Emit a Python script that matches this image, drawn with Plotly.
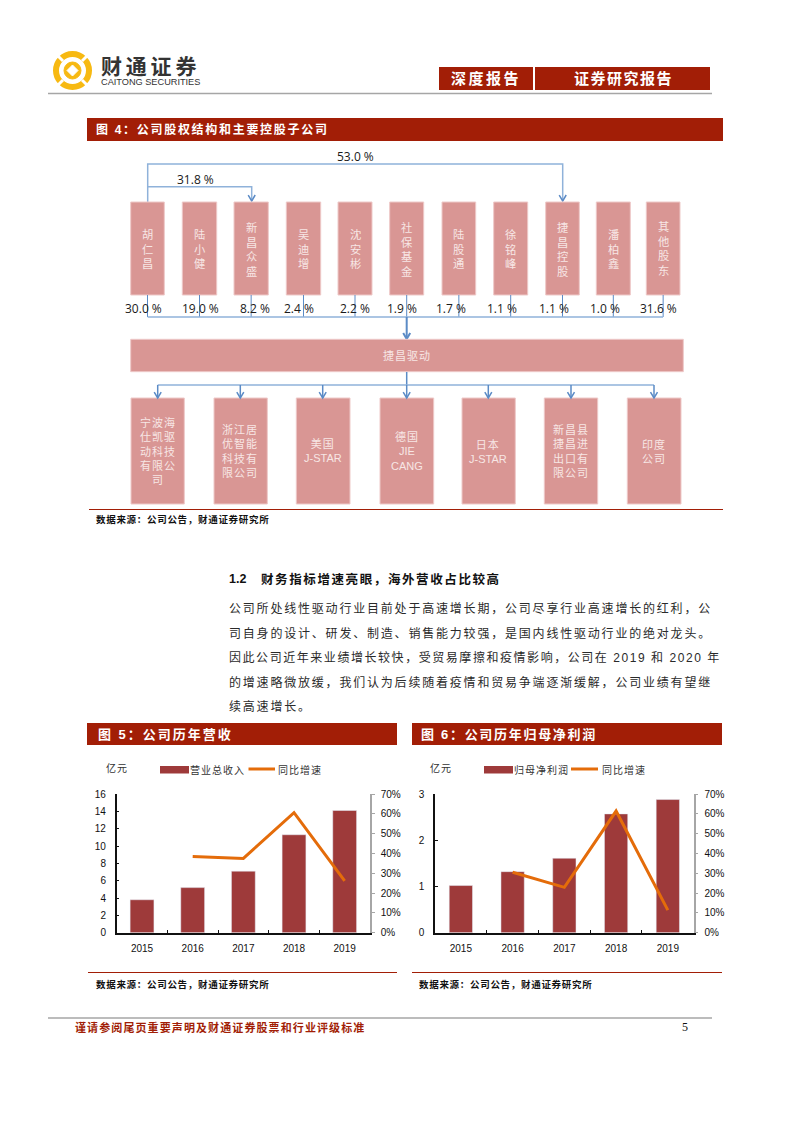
import plotly.graph_objects as go

PAGE_W, PAGE_H = 793, 1122
RED = "#a21e06"
BOX = "#d99694"
BOX_TEXT = "#f7e6e5"
LINK = "#8fb2da"
LINK_DARK = "#5b8bc6"
BAR = "#9e3a3a"
ORANGE = "#e46c0a"
CJK = "Liberation Sans, Noto Sans CJK SC"

years = ["2015", "2016", "2017", "2018", "2019"]
revenue = [3.8, 5.2, 7.1, 11.3, 14.1]
revenue_growth = [None, 0.385, 0.375, 0.606, 0.262]
profit = [1.02, 1.32, 1.61, 2.57, 2.88]
profit_growth = [None, 0.305, 0.229, 0.614, 0.114]

holders = ["胡仁昌", "陆小健", "新昌众盛", "吴迪增", "沈安彬", "社保基金",
           "陆股通", "徐铭峰", "捷昌控股", "潘柏鑫", "其他股东"]
holder_pct = ["30.0 %", "19.0 %", "8.2 %", "2.4 %", "2.2 %", "1.9 %",
              "1.7 %", "1.1 %", "1.1 %", "1.0 %", "31.6 %"]
subsidiaries = [["宁波海", "仕凯驱", "动科技", "有限公", "司"],
                ["浙江居", "优智能", "科技有", "限公司"],
                ["美国", "J-STAR"],
                ["德国", "JIE", "CANG"],
                ["日本", "J-STAR"],
                ["新昌县", "捷昌进", "出口有", "限公司"],
                ["印度", "公司"]]
body_lines = ["公司所处线性驱动行业目前处于高速增长期，公司尽享行业高速增长的红利，公",
              "司自身的设计、研发、制造、销售能力较强，是国内线性驱动行业的绝对龙头。",
              "因此公司近年来业绩增长较快，受贸易摩擦和疫情影响，公司在 2019 和 2020 年",
              "的增速略微放缓，我们认为后续随着疫情和贸易争端逐渐缓解，公司业绩有望继",
              "续高速增长。"]

# page layout, in pixels of the page
holder_left = [130.7, 182.3, 234, 286.3, 338, 389.7, 442, 493.7, 545.7, 596.3, 646.3]
holder_right = [164.3, 216.7, 268.3, 320.7, 372, 423.7, 475.7, 527.7, 579.3, 630.3, 680]
pct_x = [143.3, 200.8, 254.8, 298.5, 354.5, 402.4, 450.5, 502.3, 554.2, 604.7, 658]
sub_left = [131, 214, 296.3, 380, 462, 544.3, 627.3]
sub_right = [184.3, 267.3, 350, 433.7, 515.3, 597.7, 681]
sub_x = [157.7, 240.3, 322.7, 406.7, 488.3, 571, 654]
body_y = [609, 633, 657, 682, 706]
body_spacing = [1.8, 1.8, 1.55, 1.8, 1.8]


def px(x):
    return x / PAGE_W


def py(y):
    return 1 - y / PAGE_H


def spaced(text, gap):
    return f'<span style="letter-spacing:{gap}px">{text}</span>'


shapes = []
annotations = []


def rect(x0, y0, x1, y1, color, line_color=None):
    shapes.append(dict(type="rect", xref="paper", yref="paper",
                       x0=px(x0), x1=px(x1), y0=py(y0), y1=py(y1),
                       fillcolor=color, layer="below",
                       line=dict(color=line_color or color, width=1 if line_color else 0)))


def line(points, color=LINK, width=1.5):
    d = "M" + " L".join(f"{px(x):.5f},{py(y):.5f}" for x, y in points)
    shapes.append(dict(type="path", xref="paper", yref="paper", path=d,
                       line=dict(color=color, width=width), layer="below"))


def arrow(x, y0, y1, color=LINK_DARK, width=1.5):
    line([(x, y0), (x, y1)], color, width)
    line([(x - 3.5, y1 - 6), (x, y1), (x + 3.5, y1 - 6)], color, width)


def label(x, y, text, size=11, color="#222222", anchor="left", family=CJK):
    annotations.append(dict(xref="paper", yref="paper", x=px(x), y=py(y), text=text,
                            showarrow=False, xanchor=anchor, yanchor="middle",
                            borderpad=0, borderwidth=0,
                            font=dict(size=size, color=color, family=family)))


# page furniture
rect(439, 67, 533, 90, RED)
rect(535, 67, 710, 90, RED)
label(486, 78, spaced("<b>深度报告</b>", 2.5), 15, "#ffffff", "center")
label(623, 78, spaced("<b>证券研究报告</b>", 1.5), 15, "#ffffff", "center")
line([(48, 93.5), (712, 93.5)], "#a6a6a6", 1.5)
line([(48, 1018), (712, 1018)], "#a6a6a6", 1.5)
label(75, 1027, spaced("<b>谨请参阅尾页重要声明及财通证券股票和行业评级标准</b>", 1.1), 11, RED)
label(685, 1027, "5", 12, "#111111", "center", "Liberation Serif")

# logo
LOGO_GOLD = "#f7b912"
shapes.append(dict(type="circle", xref="paper", yref="paper", layer="below",
                   x0=px(56), x1=px(89), y0=py(54), y1=py(87),
                   fillcolor="rgba(0,0,0,0)", line=dict(color=LOGO_GOLD, width=6)))
for a, b in [((55, 53), (63, 61)), ((90, 53), (82, 61)), ((55, 88), (63, 80)), ((90, 88), (82, 80))]:
    line([a, b], "#ffffff", 3)
shapes.append(dict(type="circle", xref="paper", yref="paper", layer="below",
                   x0=px(64), x1=px(81), y0=py(62), y1=py(79),
                   fillcolor=LOGO_GOLD, line=dict(color=LOGO_GOLD, width=1)))
shapes.append(dict(type="path", xref="paper", yref="paper", layer="below",
                   path=f"M{px(72.5)},{py(65)} L{px(78)},{py(70.5)} L{px(72.5)},{py(76)} L{px(67)},{py(70.5)} Z",
                   fillcolor="#ffffff", line=dict(color="#ffffff", width=1)))
label(101, 67, spaced("<b>财通证券</b>", 3.8), 21, "#333333")
label(101, 81.5, "CAITONG SECURITIES", 9.2, "#333333", family="Liberation Sans")

# figure 4
rect(87, 118, 723, 141, RED)
label(96, 129.5, spaced("<b>图 4：公司股权结构和主要控股子公司</b>", 1.7), 12, "#ffffff")

label(355, 156, "53.0 %", 12, "#1a1a1a", "center", "Open Sans")
label(195, 179, "31.8 %", 12, "#1a1a1a", "center", "Open Sans")
line([(147.7, 202), (147.7, 164), (562.7, 164), (562.7, 201)])
line([(147.7, 186.7), (251.7, 186.7), (251.7, 201)])
line([(562.7 - 3.5, 195), (562.7, 201), (562.7 + 3.5, 195)], LINK_DARK)
line([(251.7 - 3.5, 195), (251.7, 201), (251.7 + 3.5, 195)], LINK_DARK)

for i, name in enumerate(holders):
    rect(holder_left[i], 202, holder_right[i], 295, BOX, "#eec9c8")
    mid = (holder_left[i] + holder_right[i]) / 2
    label(mid, 249, "<br>".join(name), 11.3, BOX_TEXT, "center")
    line([(mid, 295), (mid, 317)], LINK_DARK, 1)
    label(pct_x[i], 308, holder_pct[i], 12, "#1a1a1a", "center", "Open Sans")

line([(147.7, 317), (663, 317)])
arrow(406.7, 317, 339, LINK_DARK, 2)
rect(130.7, 339.3, 683.3, 371.7, BOX, "#eec9c8")
label(407, 356, spaced("捷昌驱动", 1), 11, BOX_TEXT, "center")
line([(406.7, 372), (406.7, 385)], LINK_DARK, 1.5)
line([(157.7, 385), (654, 385)])
for i, rows in enumerate(subsidiaries):
    rect(sub_left[i], 398, sub_right[i], 504, BOX, "#eec9c8")
    arrow(sub_x[i], 385, 398)
    shown = [r if r.isascii() else spaced(r, 1) for r in rows]
    label(sub_x[i], 451, "<br>".join(shown), 11, BOX_TEXT, "center")

line([(89, 509.5), (723, 509.5)], RED, 1)
label(96, 520, spaced("<b>数据来源：公司公告，财通证券研究所</b>", 0.7), 9.5, "#111111")

# section text
label(229, 579, "<b>1.2</b>", 12.5, "#111111")
label(260.5, 579, spaced("<b>财务指标增速亮眼，海外营收占比较高</b>", 1.6), 12.5, "#111111")
for i, text in enumerate(body_lines):
    label(229, body_y[i], spaced(text, body_spacing[i]), 12, "#2a2a2a")

# figure 5 / 6 headers and footers
rect(87, 723, 397, 745, RED)
label(98, 734, spaced("<b>图 5：公司历年营收</b>", 2), 13, "#ffffff")
rect(412, 723, 722, 745, RED)
label(421, 734, spaced("<b>图 6：公司历年归母净利润</b>", 1.7), 13, "#ffffff")
line([(88, 972.5), (397, 972.5)], RED, 1)
line([(412, 972.5), (722, 972.5)], RED, 1)
label(96, 984, spaced("<b>数据来源：公司公告，财通证券研究所</b>", 0.7), 9.5, "#111111")
label(419, 984, spaced("<b>数据来源：公司公告，财通证券研究所</b>", 0.7), 9.5, "#111111")

# hand-placed legends, the reference keeps them next to the unit label
label(106, 768, spaced("亿元", 1), 10, "#333333")
rect(160, 766, 189, 773.5, BAR)
label(190, 770, spaced("营业总收入", 1), 10, "#333333")
line([(248.5, 769), (275, 769)], ORANGE, 3)
label(278, 770, spaced("同比增速", 1), 10, "#333333")
label(430, 768, spaced("亿元", 1), 10, "#333333")
rect(484, 766, 513, 773.5, BAR)
label(514, 770, spaced("归母净利润", 1), 10, "#333333")
line([(571, 769), (598, 769)], ORANGE, 3)
label(602, 770, spaced("同比增速", 1), 10, "#333333")

fig = go.Figure()
fig.add_trace(go.Bar(x=years, y=revenue, name="营业总收入", width=0.47,
                     marker=dict(color=BAR), xaxis="x", yaxis="y"))
fig.add_trace(go.Scatter(x=years, y=revenue_growth, name="同比增速", mode="lines",
                         line=dict(color=ORANGE, width=3), xaxis="x", yaxis="y2"))
fig.add_trace(go.Bar(x=years, y=profit, name="归母净利润", width=0.45,
                     marker=dict(color=BAR), xaxis="x2", yaxis="y3"))
fig.add_trace(go.Scatter(x=years, y=profit_growth, name="同比增速", mode="lines",
                         line=dict(color=ORANGE, width=3), xaxis="x2", yaxis="y4"))

tick_font = dict(family="Liberation Sans", size=10, color="#111111")
y_top, y_bottom = py(794), py(932.7)


def x_axis(x0, x1, anchor):
    return dict(domain=[px(x0), px(x1)], anchor=anchor, type="category", showgrid=False,
                showline=True, linecolor="#111111", linewidth=1.5, ticks="inside", ticklen=3,
                tickcolor="#111111", tickson="boundaries", tickfont=tick_font,
                ticklabelstandoff=6, zeroline=False)


def left_axis(anchor, top, dtick):
    return dict(domain=[y_bottom, y_top], anchor=anchor, range=[0, top], dtick=dtick,
                showgrid=False, zeroline=False, showline=True, linecolor="#111111",
                linewidth=1.5, ticks="inside", ticklen=3, tickcolor="#111111",
                tickfont=tick_font, ticklabelstandoff=7)


def right_axis(anchor, over):
    return dict(domain=[y_bottom, y_top], anchor=anchor, overlaying=over, side="right",
                range=[0, 0.7], dtick=0.1, tickformat=".0%", showgrid=False, zeroline=False,
                showline=True, linecolor="#a6a6a6", linewidth=1.5, ticks="outside", ticklen=3,
                tickcolor="#a6a6a6", tickfont=tick_font, ticklabelstandoff=4)


fig.update_layout(
    width=PAGE_W, height=PAGE_H,
    margin=dict(l=0, r=0, t=0, b=0, pad=0, autoexpand=False),
    paper_bgcolor="#ffffff", plot_bgcolor="rgba(0,0,0,0)", showlegend=False,
    shapes=shapes, annotations=annotations,
    xaxis=x_axis(116.7, 370, "y"),
    yaxis=left_axis("x", 16, 2),
    yaxis2=right_axis("x", "y"),
    xaxis2=x_axis(435, 693.7, "y3"),
    yaxis3=left_axis("x2", 3, 1),
    yaxis4=right_axis("x2", "y3"),
)

fig.write_html("out.html", config=dict(displayModeBar=False),
               post_script="document.body.style.margin='0';")
